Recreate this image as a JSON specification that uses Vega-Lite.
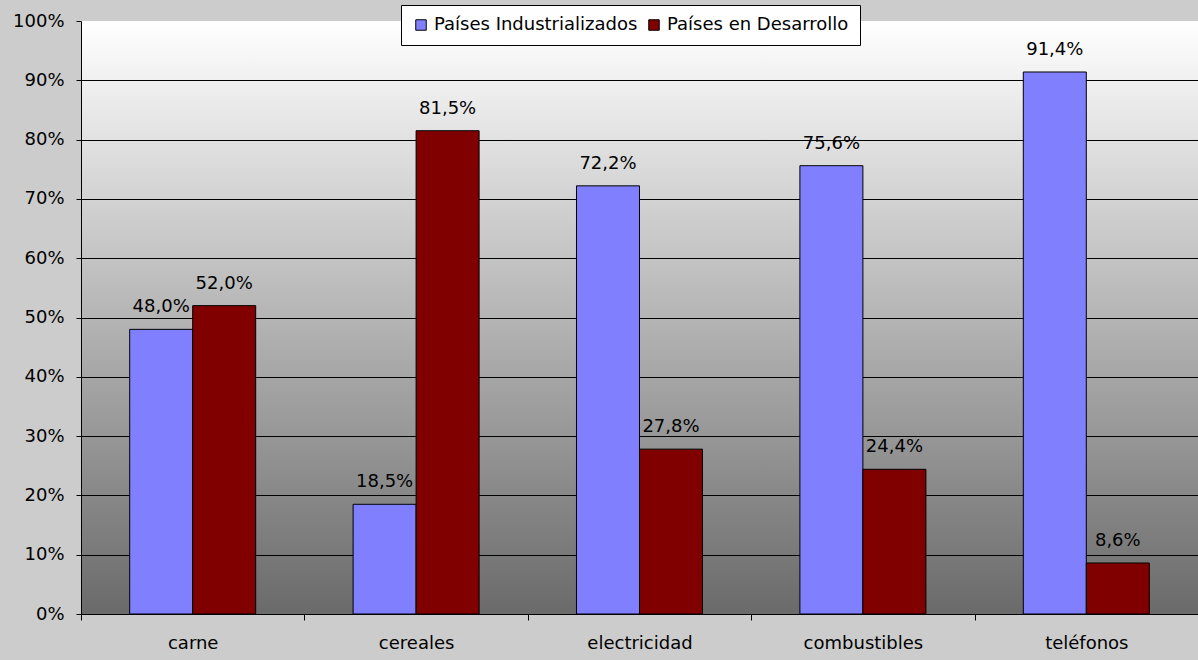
{
  "$schema": "https://vega.github.io/schema/vega-lite/v6.json",
  "width": 1117,
  "height": 593,
  "autosize": {"type": "none"},
  "padding": {"left": 81, "top": 21, "right": 0, "bottom": 46},
  "background": "#cccccc",
  "data": {
    "values": [
      {"categoria": "carne", "serie": "Países Industrializados", "valor": 0.480},
      {"categoria": "carne", "serie": "Países en Desarrollo", "valor": 0.520},
      {"categoria": "cereales", "serie": "Países Industrializados", "valor": 0.185},
      {"categoria": "cereales", "serie": "Países en Desarrollo", "valor": 0.815},
      {"categoria": "electricidad", "serie": "Países Industrializados", "valor": 0.722},
      {"categoria": "electricidad", "serie": "Países en Desarrollo", "valor": 0.278},
      {"categoria": "combustibles", "serie": "Países Industrializados", "valor": 0.756},
      {"categoria": "combustibles", "serie": "Países en Desarrollo", "valor": 0.244},
      {"categoria": "teléfonos", "serie": "Países Industrializados", "valor": 0.914},
      {"categoria": "teléfonos", "serie": "Países en Desarrollo", "valor": 0.086}
    ]
  },
  "encoding": {
    "x": {
      "field": "categoria",
      "type": "nominal",
      "sort": ["carne", "cereales", "electricidad", "combustibles", "teléfonos"],
      "scale": {"paddingInner": 0, "paddingOuter": 0},
      "axis": {
        "title": null,
        "labelAngle": 0,
        "tickBand": "extent",
        "tickSize": 6,
        "tickColor": "black",
        "domainColor": "black",
        "labelFontSize": 18,
        "labelFont": "DejaVu Sans",
        "labelColor": "black",
        "labelPadding": 14,
        "grid": false
      }
    },
    "xOffset": {
      "field": "serie",
      "sort": ["Países Industrializados", "Países en Desarrollo"],
      "scale": {"paddingInner": 0, "paddingOuter": 0.773}
    },
    "y": {
      "field": "valor",
      "type": "quantitative",
      "scale": {"domain": [0, 1], "nice": false},
      "axis": {
        "title": null,
        "values": [0, 0.1, 0.2, 0.3, 0.4, 0.5, 0.6, 0.7, 0.8, 0.9, 1],
        "format": ".0%",
        "tickSize": 5,
        "tickColor": "black",
        "domainColor": "black",
        "grid": true,
        "gridColor": {"condition": {"test": "datum.value >= 0.999", "value": "transparent"}, "value": "black"},
        "gridOpacity": 1,
        "labelFontSize": 18,
        "labelFont": "DejaVu Sans",
        "labelColor": "black",
        "labelPadding": 12
      }
    }
  },
  "layer": [
    {
      "mark": {"type": "bar", "stroke": "black", "strokeWidth": 1, "opacity": 1},
      "encoding": {
        "color": {
          "field": "serie",
          "type": "nominal",
          "scale": {
            "domain": ["Países Industrializados", "Países en Desarrollo"],
            "range": ["#8080ff", "#800000"]
          },
          "legend": {
            "orient": "none",
            "legendX": 320,
            "legendY": -16,
            "direction": "horizontal",
            "title": null,
            "fillColor": "white",
            "strokeColor": "black",
            "padding": 11,
            "symbolType": "square",
            "symbolSize": 110,
            "symbolStrokeColor": "black",
            "symbolStrokeWidth": 1,
            "symbolOpacity": 1,
            "labelFontSize": 18,
            "labelFont": "DejaVu Sans",
            "labelColor": "black",
            "labelLimit": 0,
            "labelOffset": 4,
            "columnPadding": 7
          }
        }
      }
    },
    {
      "mark": {
        "type": "text",
        "dy": -17,
        "baseline": "alphabetic",
        "fontSize": 18,
        "font": "DejaVu Sans",
        "color": "black"
      },
      "encoding": {
        "text": {"field": "valor", "type": "quantitative", "format": ".1%"}
      }
    }
  ],
  "config": {
    "locale": {
      "number": {"decimal": ",", "thousands": ".", "grouping": [3], "currency": ["", " €"]}
    },
    "view": {
      "stroke": null,
      "fill": {
        "gradient": "linear",
        "x1": 0, "y1": 0, "x2": 0, "y2": 1,
        "stops": [
          {"offset": 0, "color": "#ffffff"},
          {"offset": 1, "color": "#6a6a6a"}
        ]
      }
    }
  }
}
